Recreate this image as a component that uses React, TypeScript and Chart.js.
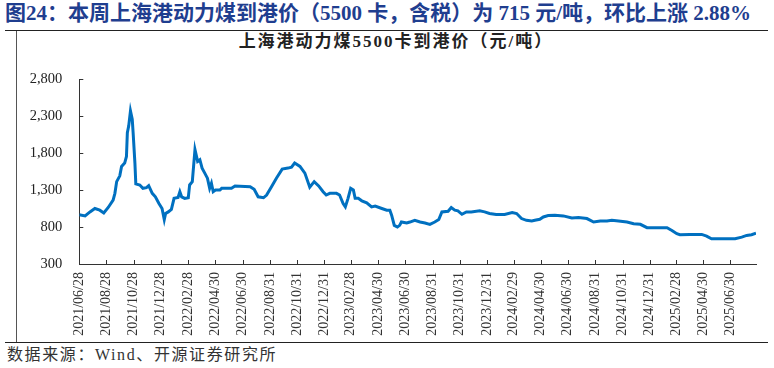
import React, { useEffect, useRef } from "react";
import { Chart, registerables } from "chart.js";

Chart.register(...registerables);

const DATES: string[] = [
  "2021/06/28", "2021/07/11", "2021/07/22", "2021/08/02", "2021/08/13", "2021/08/22",
  "2021/09/01", "2021/09/12", "2021/09/16", "2021/09/20", "2021/09/27", "2021/10/01",
  "2021/10/08", "2021/10/12", "2021/10/14", "2021/10/17", "2021/10/21", "2021/10/25",
  "2021/10/27", "2021/10/31", "2021/11/02", "2021/11/11", "2021/11/18", "2021/11/26",
  "2021/12/01", "2021/12/09", "2021/12/16", "2021/12/24", "2021/12/31", "2022/01/05",
  "2022/01/08", "2022/01/14", "2022/01/21", "2022/01/27", "2022/02/05", "2022/02/09",
  "2022/02/13", "2022/02/20", "2022/02/28", "2022/03/03", "2022/03/09", "2022/03/15",
  "2022/03/21", "2022/03/26", "2022/03/31", "2022/04/06", "2022/04/12", "2022/04/17",
  "2022/04/21", "2022/04/25", "2022/04/30", "2022/05/10", "2022/05/14", "2022/06/05",
  "2022/06/13", "2022/07/17", "2022/07/26", "2022/08/04", "2022/08/16", "2022/08/23",
  "2022/09/03", "2022/09/14", "2022/09/27", "2022/10/10", "2022/10/18", "2022/10/25",
  "2022/11/06", "2022/11/17", "2022/11/28", "2022/12/08", "2022/12/18", "2022/12/28",
  "2023/01/04", "2023/01/12", "2023/01/27", "2023/02/03", "2023/02/11", "2023/02/16",
  "2023/02/22", "2023/02/28", "2023/03/06", "2023/03/10", "2023/03/17", "2023/03/25",
  "2023/04/05", "2023/04/16", "2023/04/24", "2023/05/09", "2023/05/20", "2023/05/27",
  "2023/05/31", "2023/06/06", "2023/06/13", "2023/06/18", "2023/06/22", "2023/07/04",
  "2023/07/11", "2023/07/22", "2023/08/03", "2023/08/14", "2023/08/25", "2023/09/05",
  "2023/09/14", "2023/09/21", "2023/10/05", "2023/10/12", "2023/10/20", "2023/10/27",
  "2023/11/05", "2023/11/15", "2023/11/26", "2023/12/15", "2023/12/26", "2024/01/06",
  "2024/01/21", "2024/02/09", "2024/02/26", "2024/03/07", "2024/03/18", "2024/03/29",
  "2024/04/10", "2024/04/17", "2024/04/28", "2024/05/06", "2024/05/17", "2024/06/01",
  "2024/06/20", "2024/07/09", "2024/07/24", "2024/08/12", "2024/08/27", "2024/09/11",
  "2024/09/26", "2024/10/07", "2024/10/22", "2024/11/10", "2024/11/25", "2024/12/10",
  "2024/12/25", "2025/01/13", "2025/02/08", "2025/02/19", "2025/03/02", "2025/03/09",
  "2025/03/31", "2025/04/27", "2025/05/08", "2025/05/19", "2025/06/07", "2025/07/11",
  "2025/07/26", "2025/08/06", "2025/08/17", "2025/08/27",
];

const PRICES: number[] = [
  965, 950, 1004, 1050, 1027, 990,
  1064, 1163, 1255, 1413, 1491, 1618,
  1664, 1754, 2073, 2163, 2368, 2255,
  2073, 1664, 1382, 1368, 1323, 1331,
  1358, 1255, 1208, 1118, 1050, 900,
  982, 1004, 1037, 1187, 1200, 1277,
  1208, 1187, 1195, 1368, 1413, 1845,
  1686, 1709, 1596, 1528, 1460, 1323,
  1391, 1277, 1300, 1300, 1323, 1323,
  1354, 1345, 1309, 1208, 1195, 1232,
  1345, 1460, 1582, 1596, 1609, 1664,
  1618, 1528, 1337, 1413, 1355, 1277,
  1232, 1255, 1255, 1232, 1118, 1072,
  1187, 1323, 1300, 1187, 1187, 1154,
  1127, 1072, 1082, 1050, 1027, 1027,
  959, 822, 799, 822, 867, 854,
  867, 890, 867, 854, 836, 867,
  900, 1004, 1013, 1064, 1027, 1018,
  972, 1004, 1004, 1018, 1004, 982,
  968, 968, 995, 982, 914, 890,
  881, 890, 904, 936, 954, 959,
  950, 922, 927, 914, 867, 881,
  881, 890, 881, 867, 845, 836,
  791, 791, 791, 754, 709, 695,
  700, 700, 677, 641, 641, 641,
  663, 686, 695, 715,
];

const X_TICK_LABELS: string[] = [
  "2021/06/28", "2021/08/28", "2021/10/28", "2021/12/28", "2022/02/28", "2022/04/30",
  "2022/06/30", "2022/08/31", "2022/10/31", "2022/12/31", "2023/02/28", "2023/04/30",
  "2023/06/30", "2023/08/31", "2023/10/31", "2023/12/31", "2024/02/29", "2024/04/30",
  "2024/06/30", "2024/08/31", "2024/10/31", "2024/12/31", "2025/02/28", "2025/04/30",
  "2025/06/30",
];

const Y_TICKS: number[] = [300, 800, 1300, 1800, 2300, 2800];

const TITLE = "图24：本周上海港动力煤到港价（5500 卡，含税）为 715 元/吨，环比上涨 2.88%";
const CHART_TITLE = "上海港动力煤5500卡到港价（元/吨）";
const SOURCE = "数据来源：Wind、开源证券研究所";

const toUTC = (s: string) => {
  const [y, m, d] = s.split("/").map(Number);
  return Date.UTC(y, m - 1, d);
};
const BASE = toUTC(DATES[0]);
const toDay = (s: string) => (toUTC(s) - BASE) / 86400000;

const FONT_FAMILY = '"Liberation Serif", "Noto Sans CJK SC", serif';

const insideTicks = {
  id: "insideTicks",
  beforeDatasetsDraw(chart: any) {
    const { ctx, chartArea, scales } = chart;
    const xs = scales.x;
    const ys = scales.y;
    ctx.save();
    ctx.strokeStyle = "#333";
    ctx.lineWidth = 1;
    ctx.beginPath();
    xs.ticks.forEach((t: any) => {
      const px = Math.round(xs.getPixelForValue(t.value)) + 0.5;
      ctx.moveTo(px, chartArea.bottom);
      ctx.lineTo(px, chartArea.bottom - 4);
    });
    ys.ticks.forEach((t: any) => {
      const py = Math.round(ys.getPixelForValue(t.value)) + 0.5;
      ctx.moveTo(chartArea.left, py);
      ctx.lineTo(chartArea.left + 4, py);
    });
    ctx.stroke();
    ctx.restore();
  },
};

export default function App() {
  const canvasRef = useRef<HTMLCanvasElement | null>(null);

  useEffect(() => {
    if (!canvasRef.current) return;
    const points = DATES.map((d, i) => ({ x: toDay(d), y: PRICES[i] }));
    const xTickDays = X_TICK_LABELS.map(toDay);
    const labelByDay = new Map<number, string>();
    X_TICK_LABELS.forEach((l, i) => labelByDay.set(xTickDays[i], l));

    const chart = new Chart(canvasRef.current, {
      type: "line",
      data: {
        datasets: [
          {
            data: points,
            borderColor: "#0070C0",
            borderWidth: 3,
            pointRadius: 0,
            tension: 0,
            fill: false,
          },
        ],
      },
      options: {
        animation: false,
        responsive: false,
        maintainAspectRatio: false,
        layout: { padding: { top: 47, right: 14, left: 0, bottom: 0 } },
        plugins: {
          legend: { display: false },
          title: { display: false },
          tooltip: { enabled: false },
        },
        scales: {
          x: {
            type: "linear",
            min: 0,
            max: toDay(DATES[DATES.length - 1]),
            afterBuildTicks: (scale: any) => {
              scale.ticks = xTickDays.map((v) => ({ value: v }));
            },
            afterFit: (scale: any) => {
              scale.height = 78;
            },
            grid: { display: false, drawTicks: false, tickLength: 0 },
            border: { display: true, color: "#333", width: 1 },
            ticks: {
              autoSkip: false,
              minRotation: 90,
              maxRotation: 90,
              padding: 8,
              color: "#333",
              font: { family: FONT_FAMILY, size: 14 },
              callback: (v: any) => labelByDay.get(Number(v)) ?? "",
            },
          },
          y: {
            type: "linear",
            min: Y_TICKS[0],
            max: Y_TICKS[Y_TICKS.length - 1],
            afterBuildTicks: (scale: any) => {
              scale.ticks = Y_TICKS.map((v) => ({ value: v }));
            },
            afterFit: (scale: any) => {
              scale.width = 62.3;
            },
            grid: { display: false, drawTicks: false, tickLength: 0 },
            border: { display: true, color: "#333", width: 1 },
            ticks: {
              padding: 17,
              color: "#222",
              font: { family: FONT_FAMILY, size: 14.5 },
              callback: (v: any) => Number(v).toLocaleString("en-US"),
            },
          },
        },
      },
      plugins: [insideTicks],
    });
    return () => chart.destroy();
  }, []);

  return (
    <div
      style={{
        position: "absolute",
        left: 0,
        top: 0,
        width: 774,
        height: 368,
        background: "#fff",
        overflow: "hidden",
      }}
    >
      <div
        style={{
          position: "absolute",
          left: 5,
          top: 0,
          whiteSpace: "nowrap",
          fontFamily: FONT_FAMILY,
          fontWeight: "bold",
          fontSize: 21,
          lineHeight: "27px",
          color: "#1F3E8F",
        }}
      >
        {TITLE}
      </div>
      <div style={{ position: "absolute", left: 5, top: 30, width: 763, borderTop: "1.5px solid #222" }} />
      <div style={{ position: "absolute", left: 16, top: 31, height: 311, borderLeft: "1px solid #555" }} />
      <div style={{ position: "absolute", left: 5, top: 342, width: 763, borderTop: "1.5px solid #222" }} />
      <div
        style={{
          position: "absolute",
          left: 196,
          width: 400,
          top: 32,
          textAlign: "center",
          whiteSpace: "nowrap",
          fontFamily: FONT_FAMILY,
          fontWeight: "bold",
          fontSize: 17,
          lineHeight: "20px",
          letterSpacing: 2,
          color: "#222",
        }}
      >
        {CHART_TITLE}
      </div>
      <canvas
        ref={canvasRef}
        width={753}
        height={310}
        style={{ position: "absolute", left: 17, top: 32, width: 753, height: 310 }}
      />
      <div
        style={{
          position: "absolute",
          left: 7,
          top: 345,
          whiteSpace: "nowrap",
          fontFamily: FONT_FAMILY,
          fontSize: 16,
          lineHeight: "20px",
          color: "#333",
          letterSpacing: 1.6,
        }}
      >
        {SOURCE}
      </div>
    </div>
  );
}
